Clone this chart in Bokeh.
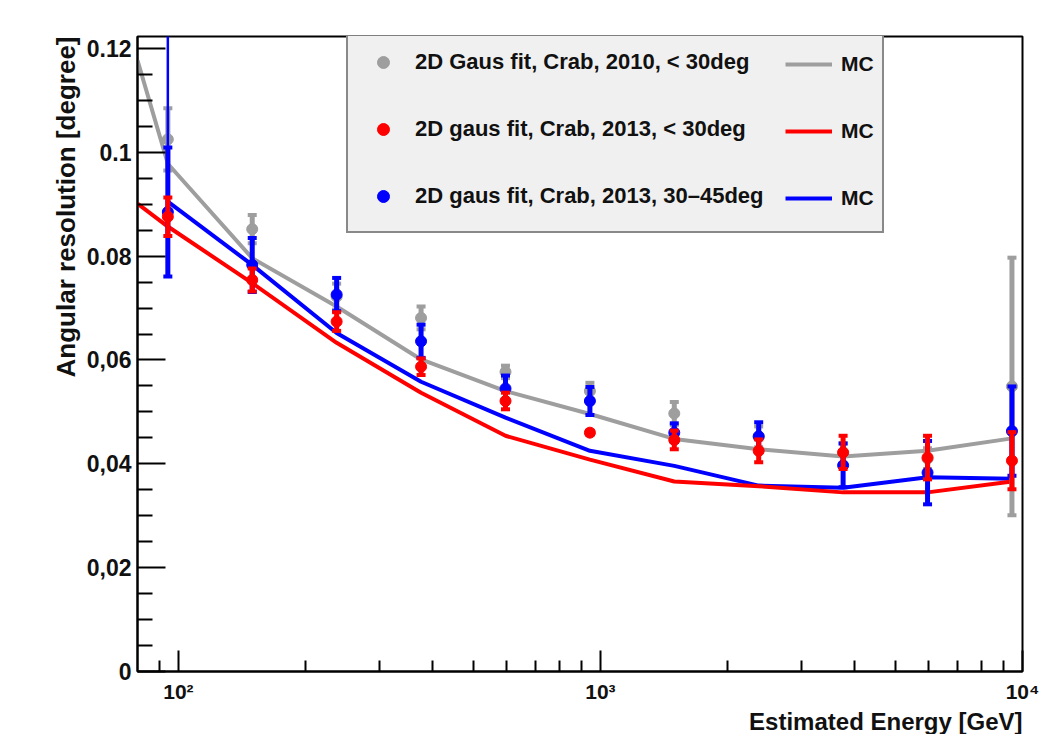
from bokeh.plotting import figure
from bokeh.models import Range1d, FixedTicker, Legend, LegendItem, Title
from bokeh.embed import file_html
from bokeh.resources import INLINE

# ---------------- data ----------------
energy = [94.4, 149.6, 237.1, 375.8, 595.7, 944.1, 1496.0, 2371.0, 3758.0, 5957.0, 9441.0]

gray_val = [0.1025, 0.0852, 0.0722, 0.0681, 0.0577, 0.0540, 0.0497, 0.0452, 0.0420, 0.0410, 0.0549]
gray_err = [0.0060, 0.0027, 0.0025, 0.0022, 0.0012, 0.0016, 0.0022, 0.0020, 0.0020, 0.0020, 0.0248]

blue_val = [0.0885, 0.0783, 0.0726, 0.0636, 0.0545, 0.0521, 0.0460, 0.0453, 0.0397, 0.0383, 0.0463]
blue_err = [0.0124, 0.0052, 0.0032, 0.0032, 0.0025, 0.0027, 0.0018, 0.0027, 0.0042, 0.0061, 0.0086]

red_val = [0.0876, 0.0754, 0.0674, 0.0587, 0.0521, 0.0460, 0.0446, 0.0425, 0.0422, 0.0412, 0.0406]
red_err = [0.0037, 0.0022, 0.0018, 0.0016, 0.0016, 0.0004, 0.0018, 0.0022, 0.0032, 0.0042, 0.0055]

# thin upper tail of the first blue error bar (runs out of the frame)
blue_tail_energy = [94.4]
blue_tail_from = [0.1009]
blue_tail_to = [0.1300]

mc_energy_gray = [80.0, 94.4, 149.6, 237.1, 375.8, 595.7, 944.1, 1496.0, 2371.0, 3758.0, 5957.0, 9441.0]
mc_gray = [0.1177, 0.0978, 0.0796, 0.0703, 0.0601, 0.0540, 0.0496, 0.0448, 0.0428, 0.0414, 0.0425, 0.0449]

mc_energy_red = [80.0, 94.4, 149.6, 237.1, 375.8, 595.7, 944.1, 1496.0, 2371.0, 3758.0, 5957.0, 9441.0]
mc_red = [0.0901, 0.0857, 0.0748, 0.0633, 0.0537, 0.0454, 0.0408, 0.0366, 0.0357, 0.0345, 0.0345, 0.0366]

mc_energy_blue = [94.4, 149.6, 237.1, 375.8, 595.7, 944.1, 1496.0, 2371.0, 3758.0, 5957.0, 9441.0]
mc_blue = [0.0905, 0.0783, 0.0652, 0.0558, 0.0489, 0.0425, 0.0396, 0.0358, 0.0354, 0.0374, 0.0371]

labels_points = ["2D Gaus fit, Crab, 2010, < 30deg",
                 "2D gaus fit, Crab, 2013, < 30deg",
                 "2D gaus fit, Crab, 2013, 30\u201345deg"]
label_mc = "MC"

x_major = [100, 1000, 10000]
x_major_labels = {100: "10\u00b2", 1000: "10\u00b3", 10000: "10\u2074"}
y_major = [0.0, 0.02, 0.04, 0.06, 0.08, 0.1, 0.12]
y_major_labels = {0.0: "0", 0.02: "0,02", 0.04: "0,04", 0.06: "0,06",
                  0.08: "0.08", 0.1: "0.1", 0.12: "0.12"}

x_title = "Estimated Energy [GeV]"
y_title = "Angular resolution [degree]"

GRAY = "#9e9e9e"
RED = "#ff0000"
BLUE = "#0000ff"
FONT = "Liberation Sans"
TXT = "#111111"

# ---------------- figure ----------------
p = figure(width=1056, height=734, x_axis_type="log",
           x_range=Range1d(80, 10000), y_range=Range1d(0, 0.1223),
           output_backend="svg", toolbar_location=None,
           min_border_left=137, min_border_right=34,
           min_border_top=36, min_border_bottom=61)
p.background_fill_color = "white"
p.border_fill_color = "white"
p.outline_line_color = "black"
p.outline_line_width = 2
p.grid.visible = False

x_minor = [m * 10 ** k for k in (1, 2, 3) for m in range(2, 10) if 80 < m * 10 ** k < 10000]
y_minor = [round(i * 0.005, 3) for i in range(0, 25) if i % 4 != 0]

p.xaxis.ticker = FixedTicker(ticks=x_major, minor_ticks=x_minor)
p.xaxis.major_label_overrides = x_major_labels
p.yaxis.ticker = FixedTicker(ticks=y_major, minor_ticks=y_minor)
p.yaxis.major_label_overrides = y_major_labels

for ax in (p.xaxis, p.yaxis):
    ax.axis_line_color = "black"
    ax.axis_line_width = 2
    ax.major_tick_out = 0
    ax.minor_tick_out = 0
    ax.major_tick_line_width = 2
    ax.minor_tick_line_width = 2
    ax.major_tick_line_color = "black"
    ax.minor_tick_line_color = "black"
    ax.major_label_text_font = FONT
    ax.major_label_text_font_style = "bold"
    ax.major_label_text_color = TXT

p.xaxis.major_tick_in = 21
p.xaxis.minor_tick_in = 11
p.xaxis.major_label_text_font_size = "21px"
p.xaxis.major_label_standoff = 8
p.yaxis.major_tick_in = 28
p.yaxis.minor_tick_in = 15
p.yaxis.major_label_text_font_size = "23px"
p.yaxis.major_label_standoff = 6

# ---------------- MC lines ----------------
r_mc_gray = p.line(mc_energy_gray, mc_gray, line_color=GRAY, line_width=4)
r_mc_blue = p.line(mc_energy_blue, mc_blue, line_color=BLUE, line_width=4)
r_mc_red = p.line(mc_energy_red, mc_red, line_color=RED, line_width=4)

# ---------------- data points with error bars ----------------
def series(vals, errs, color):
    hi = [v + e for v, e in zip(vals, errs)]
    lo = [v - e for v, e in zip(vals, errs)]
    p.segment(energy, lo, energy, hi, line_color=color, line_width=5)
    p.scatter(energy, hi, marker="dash", size=9, line_color=color, line_width=4)
    p.scatter(energy, lo, marker="dash", size=9, line_color=color, line_width=4)
    return p.scatter(energy, vals, marker="circle", size=11, fill_color=color, line_color=color)

r_gray = series(gray_val, gray_err, GRAY)
p.segment(blue_tail_energy, blue_tail_from, blue_tail_energy, blue_tail_to, line_color=BLUE, line_width=2.5)
r_blue = series(blue_val, blue_err, BLUE)
r_red = series(red_val, red_err, RED)

# ---------------- legend ----------------
leg_a = Legend(items=[LegendItem(label=labels_points[0], renderers=[r_gray]),
                      LegendItem(label=labels_points[1], renderers=[r_red]),
                      LegendItem(label=labels_points[2], renderers=[r_blue])],
               location=(209, 438), orientation="vertical",
               glyph_width=30, glyph_height=30, label_height=30, label_width=447,
               label_standoff=17, padding=20, spacing=37, margin=0,
               background_fill_color="#f0f0f0", background_fill_alpha=1.0,
               border_line_color="#222222", border_line_width=2,
               label_text_font=FONT, label_text_font_style="bold",
               label_text_font_size="22px", label_text_color=TXT)
leg_b = Legend(items=[LegendItem(label=label_mc, renderers=[r_mc_gray]),
                      LegendItem(label=label_mc, renderers=[r_mc_red]),
                      LegendItem(label=label_mc, renderers=[r_mc_blue])],
               location=(628, 438), orientation="vertical",
               glyph_width=47, glyph_height=30, label_height=30, label_width=20,
               label_standoff=9, padding=20, spacing=37, margin=0,
               background_fill_alpha=0.0, border_line_alpha=0.0,
               label_text_font=FONT, label_text_font_style="bold",
               label_text_font_size="21px", label_text_color=TXT)
p.add_layout(leg_a)
p.add_layout(leg_b)

# ---------------- axis titles ----------------
p.add_layout(Title(text=x_title, align="right", standoff=0,
                   text_font=FONT, text_font_style="bold", text_font_size="24px",
                   text_color=TXT), "below")
p.add_layout(Title(text=y_title, align="right", standoff=5,
                   text_font=FONT, text_font_style="bold", text_font_size="26px",
                   text_color=TXT), "left")

open("out.html", "w").write(file_html(p, INLINE))
